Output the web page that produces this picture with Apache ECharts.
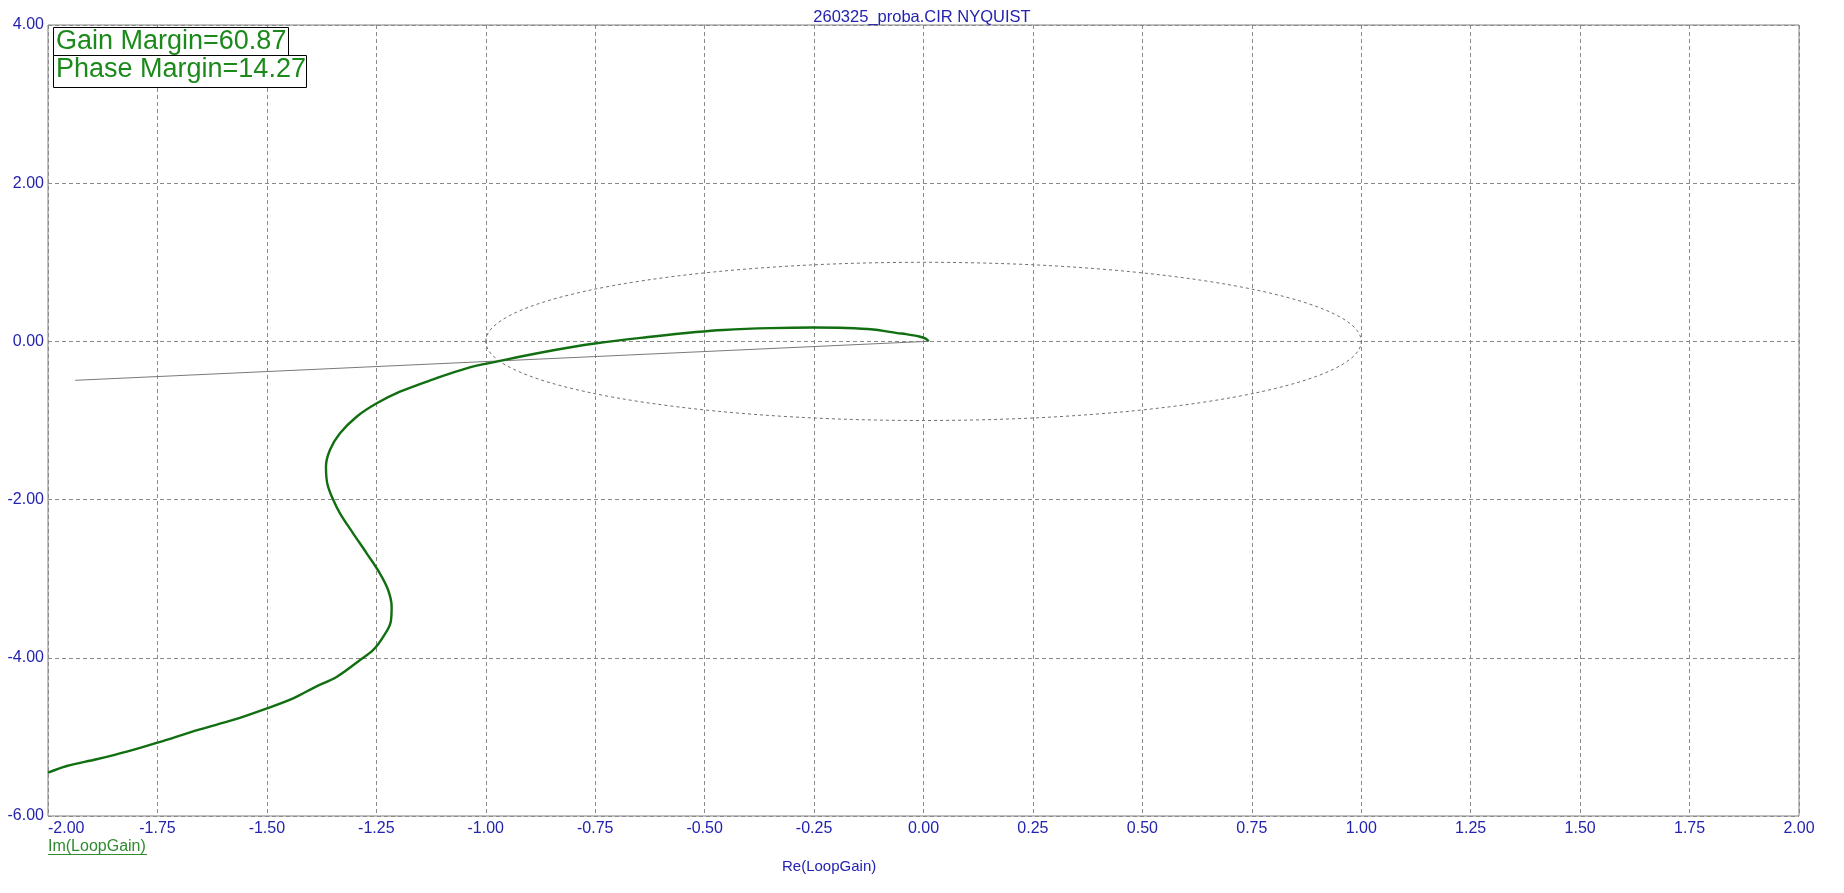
<!DOCTYPE html>
<html>
<head>
<meta charset="utf-8">
<script src="https://cdn.jsdelivr.net/npm/echarts@6/dist/echarts.min.js"></script>
<style>
html,body{margin:0;padding:0;background:#fff;}
#chart{width:1844px;height:893px;}
</style>
</head>
<body>
<div id="chart"></div>
<script>
// ---- data ----
const chartTitle = '260325_proba.CIR NYQUIST';
const xAxisName = 'Re(LoopGain)';
const yAxisName = 'Im(LoopGain)';
const gainMarginText = 'Gain Margin=60.87';
const phaseMarginText = 'Phase Margin=14.27';

const xMin = -2, xMax = 2, xStep = 0.25;
const yMin = -6, yMax = 4, yStep = 2;

// Nyquist curve (Re, Im)
const nyquistRe = [0.012, 0.005, -0.010, -0.040, -0.060, -0.115, -0.176, -0.252, -0.351, -0.457, -0.520, -0.617, -0.747, -0.876, -0.975, -1.044, -1.120, -1.196, -1.249, -1.295, -1.333, -1.356, -1.365, -1.362, -1.350, -1.333, -1.303, -1.272, -1.242, -1.223, -1.215, -1.217, -1.234, -1.257, -1.290, -1.340, -1.390, -1.440, -1.500, -1.577, -1.653, -1.750, -1.820, -1.889, -1.957, -2.0];
const nyquistIm = [0.0, 0.035, 0.062, 0.092, 0.105, 0.150, 0.170, 0.176, 0.168, 0.145, 0.118, 0.062, -0.024, -0.143, -0.256, -0.340, -0.479, -0.636, -0.783, -0.952, -1.162, -1.373, -1.584, -1.795, -1.984, -2.173, -2.426, -2.679, -2.932, -3.143, -3.354, -3.544, -3.733, -3.901, -4.040, -4.239, -4.370, -4.512, -4.639, -4.786, -4.904, -5.073, -5.187, -5.283, -5.368, -5.453];

// grey reference line (Re, Im)
const refLineRe = [-1.938, 0.007];
const refLineIm = [-0.492, 0.0];

// unit circle reference (centre and radius in data units)
const unitCircleCenter = [0, 0];
const unitCircleRadius = 1;

// ---- chart ----
const blue = '#2323b0';
const gridGrey = '#8a8a8a';
const fontFamily = '"Liberation Sans", Arial, sans-serif';

const chart = echarts.init(document.getElementById('chart'), null, {renderer: 'canvas'});

const nyquistData = nyquistRe.map((v, i) => [v, nyquistIm[i]]);
const refLineData = refLineRe.map((v, i) => [v, refLineIm[i]]);

const option = {
  backgroundColor: '#ffffff',
  animation: false,
  title: {
    text: chartTitle,
    left: 'center',
    top: 4,
    textStyle: {color: blue, fontSize: 16.5, fontWeight: 'normal', fontFamily: fontFamily}
  },
  grid: {
    left: 48, right: 45, top: 25, bottom: 77,
    show: true, borderColor: '#808080', borderWidth: 1, backgroundColor: 'transparent'
  },
  xAxis: {
    type: 'value', min: xMin, max: xMax, interval: xStep,
    axisLine: {show: false}, axisTick: {show: false},
    axisLabel: {
      color: blue, fontSize: 16, fontFamily: fontFamily, margin: 5,
      formatter: v => v.toFixed(2), alignMinLabel: 'left', alignMaxLabel: 'center'
    },
    splitLine: {show: true, lineStyle: {color: gridGrey, type: [4, 3], width: 1}}
  },
  yAxis: {
    type: 'value', min: yMin, max: yMax, interval: yStep,
    axisLine: {show: false}, axisTick: {show: false},
    axisLabel: {
      color: blue, fontSize: 16, fontFamily: fontFamily, margin: 4,
      formatter: v => v.toFixed(2)
    },
    splitLine: {show: true, lineStyle: {color: gridGrey, type: [4, 3], width: 1}}
  },
  series: [
    {
      type: 'line', data: refLineData, showSymbol: false, silent: true,
      lineStyle: {color: '#7a7a7a', width: 1}, z: 2
    },
    {
      type: 'line', data: nyquistData, showSymbol: false, smooth: 0.35, silent: true,
      lineStyle: {color: '#116f11', width: 2.4}, z: 3
    }
  ]
};
chart.setOption(option);

function drawOverlays() {
  const c = chart.convertToPixel({gridIndex: 0}, unitCircleCenter);
  const e = chart.convertToPixel({gridIndex: 0}, [unitCircleCenter[0] + unitCircleRadius, unitCircleCenter[1] + unitCircleRadius]);
  const rx = Math.abs(e[0] - c[0]);
  const ry = Math.abs(e[1] - c[1]);
  const gridRect = chart.getModel().getComponent('grid', 0).coordinateSystem.getRect();
  const left = gridRect.x;
  chart.setOption({
    graphic: [
      {
        type: 'ellipse', shape: {cx: c[0], cy: c[1], rx: rx, ry: ry}, silent: true, z: 1,
        style: {fill: null, stroke: '#707070', lineWidth: 1, lineDash: [3, 3]}
      },
      {
        type: 'rect', shape: {x: 53.5, y: 27.5, width: 235, height: 28}, z: 10,
        style: {fill: '#fff', stroke: '#000', lineWidth: 1}
      },
      {
        type: 'text', x: 56, y: 42, z: 11,
        style: {text: gainMarginText, fill: '#1b8a1b', font: '27px ' + fontFamily, verticalAlign: 'middle', align: 'left'}
      },
      {
        type: 'rect', shape: {x: 53.5, y: 55.5, width: 253, height: 32}, z: 12,
        style: {fill: '#fff', stroke: '#000', lineWidth: 1}
      },
      {
        type: 'text', x: 56, y: 70, z: 13,
        style: {text: phaseMarginText, fill: '#1b8a1b', font: '27px ' + fontFamily, verticalAlign: 'middle', align: 'left'}
      },
      {
        type: 'text', x: left, y: 847, z: 10,
        style: {text: yAxisName, fill: '#2e8b2e', font: '16px ' + fontFamily, verticalAlign: 'middle', align: 'left'}
      },
      {
        type: 'line', shape: {x1: left, y1: 854.5, x2: left + 99, y2: 854.5}, z: 10,
        style: {stroke: '#2e8b2e', lineWidth: 1}
      },
      {
        type: 'text', x: 782, y: 867, z: 10,
        style: {text: xAxisName, fill: blue, font: '15px ' + fontFamily, verticalAlign: 'middle', align: 'left'}
      }
    ]
  });
}
drawOverlays();
</script>
</body>
</html>
